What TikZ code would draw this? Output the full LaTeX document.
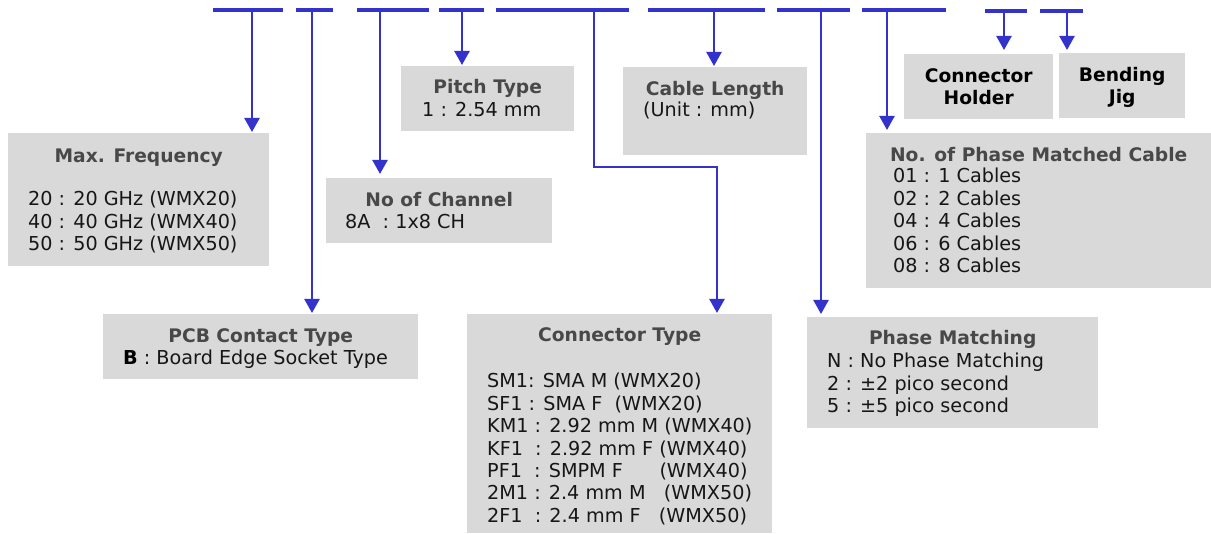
\documentclass[tikz,border=0pt]{standalone}
\usepackage{fontspec}
\setmainfont{DejaVu Sans}
\usepackage{tikz}
\usetikzlibrary{arrows.meta}
\definecolor{linkblue}{RGB}{51,51,204}
\definecolor{boxgray}{RGB}{217,217,217}
\definecolor{titlegray}{RGB}{72,72,72}
\definecolor{bodyblack}{RGB}{22,22,22}
\tikzstyle{codebox} = [fill=boxgray, draw=none, rectangle, anchor=north west, inner sep=0pt]
\tikzstyle{boxtitle} = [text=titlegray, font=\fontsize{18.67}{22.4}\selectfont\bfseries, anchor=base, inner sep=0pt]
\tikzstyle{boxhead} = [boxtitle, text=black]
\tikzstyle{boxline} = [text=bodyblack, font=\fontsize{19.2}{22.4}\selectfont, anchor=base west, inner sep=0pt]
\tikzstyle{codebar} = [draw=linkblue, line width=4pt]
\tikzstyle{pointer} = [draw=linkblue, line width=2.3pt, -{Triangle[width=15pt,length=14pt]}, shorten >=1pt]

\begin{document}
\begin{tikzpicture}[x=1pt,y=-1pt]
	\useasboundingbox (0,0) rectangle (1211,534);
	% part number bars
	\foreach \a/\b/\h in {213/283/10, 296/333/10, 357/429/10, 439/484/10, 496/629/10, 648/765/10, 777/850/10, 862/946/10, 985/1027/11, 1040/1083/11}
		\draw[codebar] (\a,\h) -- (\b,\h);
	\coordinate (s1) at (252,10);
	\coordinate (s2) at (312,10);
	\coordinate (s3) at (380,10);
	\coordinate (s4) at (462,10);
	\coordinate (s5) at (594,10);
	\coordinate (s6) at (714,10);
	\coordinate (s7) at (821,10);
	\coordinate (s8) at (887,10);
	\coordinate (s9) at (1004,11);
	\coordinate (s10) at (1067,11);
	\coordinate (bend) at (717,167);

	% boxes
	\node[codebox, minimum width=261pt, minimum height=133pt] (freq) at (8,133) {};
	\node[codebox, minimum width=315pt, minimum height=65pt] (pcb) at (103,314) {};
	\node[codebox, minimum width=226pt, minimum height=65pt] (chan) at (326,178) {};
	\node[codebox, minimum width=173pt, minimum height=65pt] (pitch) at (401,66) {};
	\node[codebox, minimum width=184pt, minimum height=88pt] (length) at (623,67) {};
	\node[codebox, minimum width=305pt, minimum height=219pt] (conn) at (467,314) {};
	\node[codebox, minimum width=291pt, minimum height=111pt] (phase) at (807,317) {};
	\node[codebox, minimum width=345pt, minimum height=155pt] (cables) at (866,133) {};
	\node[codebox, minimum width=149pt, minimum height=65pt] (holder) at (904,54) {};
	\node[codebox, minimum width=126pt, minimum height=65pt] (jig) at (1059,53) {};

	% pointers
	\draw[pointer] (s1) -- (s1 |- freq.north);
	\draw[pointer] (s2) -- (s2 |- pcb.north);
	\draw[pointer, shorten >=4pt] (s3) -- (s3 |- chan.north);
	\draw[pointer] (s4) -- (s4 |- pitch.north);
	\draw[pointer] (s5) |- (bend) -- (bend |- conn.north);
	\draw[pointer] (s6) -- (s6 |- length.north);
	\draw[pointer, shorten >=3pt] (s7) -- (s7 |- phase.north);
	\draw[pointer, shorten >=3pt] (s8) -- (s8 |- cables.north);
	\draw[pointer, shorten >=4pt] (s9) -- (s9 |- holder.north);
	\draw[pointer, shorten >=3pt] (s10) -- (s10 |- jig.north);

	% texts
	\node[boxtitle] (freqT) at ([yshift=-30pt]freq.north) {Max. Frequency};
	\foreach \ln [count=\i from 0] in {20 : 20 GHz (WMX20), 40 : 40 GHz (WMX40), 50 : 50 GHz (WMX50)}
		\node[boxline] (freq-\i) at ([xshift=20pt,yshift=-73pt-22.4pt*\i]freq.north west) {\ln};

	\node[boxtitle] (pcbT) at ([yshift=-29pt]pcb.north) {PCB Contact Type};
	\node[boxline] (pcb-0) at ([xshift=20pt,yshift=-51pt]pcb.north west) {\textbf{\color{black}B} : Board Edge Socket Type};

	\node[boxtitle] (chanT) at ([yshift=-29pt]chan.north) {No of Channel};
	\node[boxline] (chan-0) at ([xshift=19pt,yshift=-51pt]chan.north west) {8A\ \ : 1x8 CH};

	\node[boxtitle] (pitchT) at ([yshift=-28pt]pitch.north) {Pitch Type};
	\node[boxline] (pitch-0) at ([xshift=21pt,yshift=-51pt]pitch.north west) {1 : 2.54 mm};

	\node[boxtitle] (lengthT) at ([yshift=-29pt]length.north) {Cable Length};
	\node[boxline] (length-0) at ([xshift=20pt,yshift=-50pt]length.north west) {(Unit : mm)};

	\node[boxtitle] (connT) at ([yshift=-28pt]conn.north) {Connector Type};
	\foreach \ln [count=\i from 0] in {SM1: SMA M (WMX20), SF1 : SMA F\ \ (WMX20), KM1 : 2.92 mm M (WMX40), KF1\ \ : 2.92 mm F (WMX40), PF1\ \ : SMPM F\ \ \ \ \ \ (WMX40), 2M1 : 2.4 mm M\ \ \ (WMX50), 2F1\ \ : 2.4 mm F\ \ \ (WMX50)}
		\node[boxline] (conn-\i) at ([xshift=20pt,yshift=-74pt-22.4pt*\i]conn.north west) {\ln};

	\node[boxtitle] (phaseT) at ([yshift=-28pt]phase.north) {Phase Matching};
	\foreach \ln [count=\i from 0] in {N : No Phase Matching, 2 : ±2 pico second, 5 : ±5 pico second}
		\node[boxline] (phase-\i) at ([xshift=20pt,yshift=-51pt-22.4pt*\i]phase.north west) {\ln};

	\node[boxtitle] (cablesT) at ([yshift=-29pt]cables.north) {No. of Phase Matched Cable};
	\foreach \ln [count=\i from 0] in {01 : 1 Cables, 02 : 2 Cables, 04 : 4 Cables, 06 : 6 Cables, 08 : 8 Cables}
		\node[boxline] (cables-\i) at ([xshift=27pt,yshift=-50pt-22.4pt*\i]cables.north west) {\ln};

	\node[boxhead] (holderA) at ([yshift=-29pt]holder.north) {Connector};
	\node[boxhead] (holderB) at ([yshift=-51pt]holder.north) {Holder};
	\node[boxhead] (jigA) at ([yshift=-29pt]jig.north) {Bending};
	\node[boxhead] (jigB) at ([yshift=-51pt]jig.north) {Jig};
\end{tikzpicture}
\end{document}
